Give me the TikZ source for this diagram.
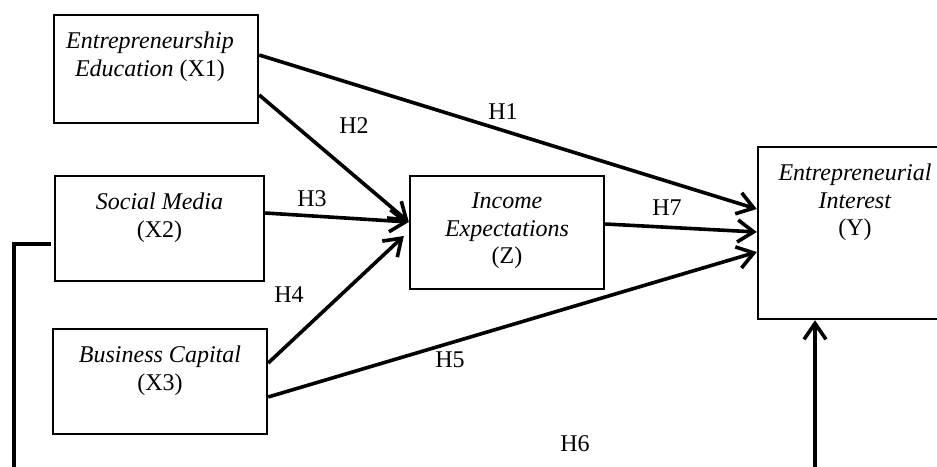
\documentclass[tikz,border=0pt]{standalone}
\usepackage{fontspec}
\setmainfont{Liberation Serif}
\usetikzlibrary{arrows.meta, positioning}

\begin{document}
\begin{tikzpicture}[
    x=0.5pt, y=-0.5pt,
    var/.style={draw, line width=1.2pt, inner sep=0pt},
    lbl/.style={anchor=north, align=center, inner sep=0pt, yshift=-8.8pt,
                font=\fontsize{12}{13.8}\selectfont},
    hyp/.style={inner sep=0pt, font=\fontsize{12}{13.8}\selectfont},
    link/.style={line width=1.8pt, -{Straight Barb[length=8pt, width=11pt]}}
  ]
  \useasboundingbox (0,0) rectangle (937,466);

  % variables
  \node[var, minimum width=102pt, minimum height=54pt,
        label={[lbl, xshift=-3pt]north:{\textit{Entrepreneurship}\\\textit{Education} (X1)}}]
        (x1) at (156,69) {};
  \node[var, minimum width=104.5pt, minimum height=52.5pt,
        label={[lbl]north:{\textit{Social Media}\\(X2)}}]
        (x2) at (159.5,228.5) {};
  \node[var, minimum width=107pt, minimum height=52.5pt,
        label={[lbl]north:{\textit{Business Capital}\\(X3)}}]
        (x3) at (160,381.5) {};
  \node[var, minimum width=97pt, minimum height=56.5pt,
        label={[lbl]north:{\textit{Income}\\\textit{Expectations}\\(Z)}}]
        (z) at (507,232.5) {};
  \node[var, minimum width=97pt, minimum height=86pt,
        label={[lbl]north:{\textit{Entrepreneurial}\\\textit{Interest}\\(Y)}}]
        (y) at (855,233) {};

  % hypotheses
  \draw[link] ([yshift=7pt]x1.east) -- ([yshift=12pt]y.west);
  \draw[link] ([yshift=-13pt]x1.east) -- ([yshift=5.25pt]z.west);
  \draw[link] ([yshift=7.75pt]x2.east) -- ([yshift=5.25pt]z.west);
  \draw[link] ([yshift=9.25pt]x3.east) -- ([xshift=-2.5pt, yshift=-1.75pt]z.west);
  \draw[link] ([yshift=-7.75pt]x3.east) -- ([yshift=-9.5pt]y.west);
  \draw[link] ([yshift=4.25pt]z.east) -- ([yshift=0.5pt]y.west);

  \coordinate (loop) at (14,480);
  \draw[link] ([xshift=-1.5pt, yshift=-7.75pt]x2.west) -| (loop)
    -| ([xshift=-20pt]y.south);

  \node[hyp] (h1) at (503,112) {H1};
  \node[hyp] (h2) at (354,126) {H2};
  \node[hyp] (h3) at (312,199) {H3};
  \node[hyp] (h4) at (289,295) {H4};
  \node[hyp] (h5) at (450,360) {H5};
  \node[hyp] (h6) at (575,444) {H6};
  \node[hyp] (h7) at (667,208) {H7};
\end{tikzpicture}
\end{document}
